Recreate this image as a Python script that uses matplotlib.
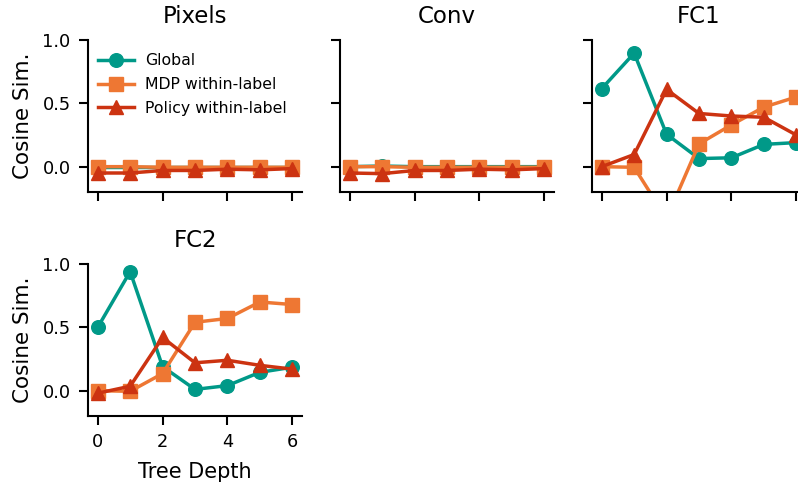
import matplotlib
matplotlib.use("Agg")
import matplotlib.pyplot as plt

depth = [0, 1, 2, 3, 4, 5, 6]
panels = ["Pixels", "Conv", "FC1", "FC2"]
series_names = ["Global", "MDP within-label", "Policy within-label"]

global_vals = {
    "Pixels": [0.0, 0.0, 0.0, 0.0, 0.0, 0.0, 0.0],
    "Conv":   [0.0, 0.005, 0.0, 0.0, 0.0, 0.0, 0.0],
    "FC1":    [0.616, 0.896, 0.256, 0.064, 0.07, 0.176, 0.19],
    "FC2":    [0.50, 0.94, 0.19, 0.01, 0.04, 0.145, 0.185],
}
mdp_vals = {
    "Pixels": [0.0, 0.0, -0.005, -0.005, -0.005, -0.005, -0.005],
    "Conv":   [0.0, 0.0, -0.005, -0.005, -0.005, -0.005, -0.005],
    "FC1":    [0.0, -0.005, -0.41, 0.18, 0.33, 0.47, 0.55],
    "FC2":    [0.0, -0.005, 0.135, 0.54, 0.57, 0.70, 0.68],
}
policy_vals = {
    "Pixels": [-0.05, -0.05, -0.03, -0.03, -0.02, -0.025, -0.015],
    "Conv":   [-0.05, -0.055, -0.03, -0.03, -0.02, -0.025, -0.015],
    "FC1":    [0.0, 0.096, 0.61, 0.42, 0.40, 0.39, 0.25],
    "FC2":    [-0.02, 0.035, 0.42, 0.22, 0.24, 0.20, 0.17],
}
yticks = [0.0, 0.5, 1.0]
xticks = [0, 2, 4, 6]

colors = ["#009988", "#EE7733", "#CC3311"]
markers = ["o", "s", "^"]

plt.rcParams.update({
    "font.family": "DejaVu Sans",
    "axes.linewidth": 1.5,
    "xtick.major.width": 1.5,
    "ytick.major.width": 1.5,
    "xtick.major.size": 6.5,
    "ytick.major.size": 6.5,
    "xtick.major.pad": 6.0,
    "ytick.major.pad": 6.0,
    "xtick.labelsize": 12.8,
    "ytick.labelsize": 12.8,
})

W, H = 798, 487
fig = plt.figure(figsize=(W / 100, H / 100), dpi=100)

lefts = [88, 340, 592]
width = 214
row_tops = [40, 264]
height = 152

positions = {
    "Pixels": (lefts[0], row_tops[0]),
    "Conv": (lefts[1], row_tops[0]),
    "FC1": (lefts[2], row_tops[0]),
    "FC2": (lefts[0], row_tops[1]),
}

for name in panels:
    lx, ty = positions[name]
    ax = fig.add_axes([lx / W, 1 - (ty + height) / H, width / W, height / H])
    data = [global_vals[name], mdp_vals[name], policy_vals[name]]
    for vals, c, m, lab in zip(data, colors, markers, series_names):
        ax.plot(depth, vals, color=c, marker=m, lw=2.5, ms=9.8, label=lab)
    ax.set_xlim(-0.3, 6.3)
    ax.set_ylim(-0.2, 1.0)
    ax.set_xticks(xticks)
    ax.set_yticks(yticks)
    ax.set_title(name, fontsize=16.5, pad=12.5)
    for s in ["top", "right"]:
        ax.spines[s].set_visible(False)
    if name in ("Pixels", "FC2"):
        ax.set_ylabel("Cosine Sim.", fontsize=15.5, labelpad=7)
        ax.set_yticklabels([f"{v:.1f}" for v in yticks])
    else:
        ax.set_yticklabels([])
    if name == "FC2":
        ax.set_xticklabels([str(v) for v in xticks])
        ax.set_xlabel("Tree Depth", fontsize=15, labelpad=8)
    else:
        ax.set_xticklabels([])
    if name == "Pixels":
        ax.legend(loc="upper left", frameon=False, fontsize=11.3,
                  bbox_to_anchor=(-0.02, 1.005), handlelength=2.3,
                  handletextpad=0.7, labelspacing=0.55)

fig.savefig("out.png", dpi=100)
